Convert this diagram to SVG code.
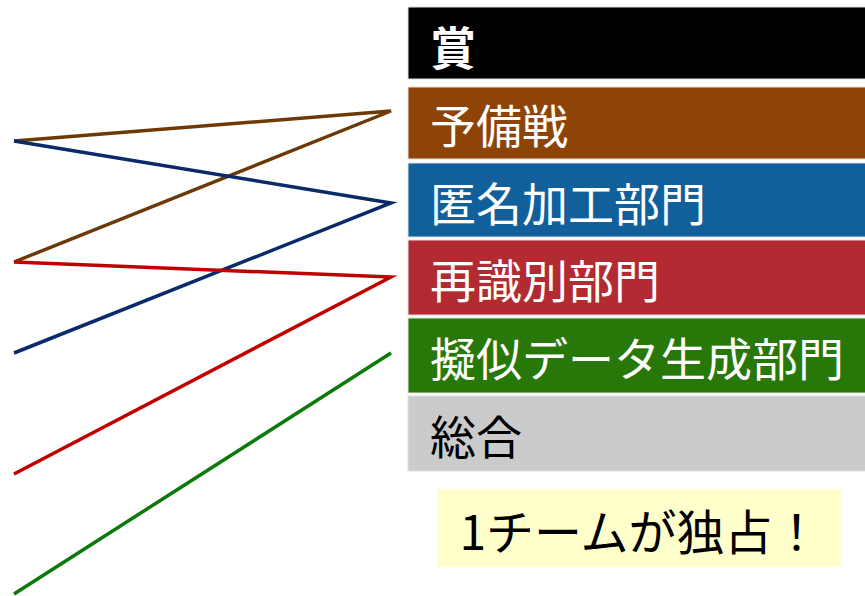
<svg xmlns="http://www.w3.org/2000/svg" width="865" height="596" viewBox="0 0 865 596">
<style>
.box{stroke:#e0e0e0;stroke-width:1}
.lbl{font-family:"Noto Sans CJK JP","Noto Sans",sans-serif;font-size:46px;dominant-baseline:central}
.w{fill:#fff}
.k{fill:#000}
.ln{fill:none;stroke-width:3.5;stroke-linecap:butt;stroke-linejoin:miter}
</style>
<rect width="865" height="596" fill="#fff"/>
<g id="connectors">
<polyline class="ln" stroke="#6b3a06" points="14,262 391,111 14,141"/>
<polyline class="ln" stroke="#0a2a6a" points="14,141 391,203 14,353"/>
<polyline class="ln" stroke="#c00000" points="14,262 391,277 14,474"/>
<line class="ln" stroke="#0a7a0a" x1="391" y1="353" x2="14" y2="594"/>
</g>
<g id="award">
<rect class="box" x="408" y="7" width="458" height="72" fill="#000"/>
<text class="lbl w" x="430" y="45" font-weight="bold">賞</text>
</g>
<g id="preliminary">
<rect class="box" x="408" y="87" width="458" height="72" fill="#8f4407"/>
<text class="lbl w" x="430" y="123">予備戦</text>
</g>
<g id="anonymization">
<rect class="box" x="408" y="163" width="458" height="74" fill="#115f9b"/>
<text class="lbl w" x="430" y="201">匿名加工部門</text>
</g>
<g id="reidentification">
<rect class="box" x="408" y="240" width="458" height="75" fill="#b22a32"/>
<text class="lbl w" x="430" y="278">再識別部門</text>
</g>
<g id="synthetic">
<rect class="box" x="408" y="318" width="458" height="75" fill="#287709"/>
<text class="lbl w" x="430" y="356">擬似データ生成部門</text>
</g>
<g id="overall">
<rect class="box" x="408" y="396" width="458" height="75" fill="#cbcbcb"/>
<text class="lbl k" x="430" y="434">総合</text>
</g>
<g id="note">
<rect x="437" y="489" width="404" height="78" fill="#ffffcc"/>
<text class="lbl k" x="640" y="529" text-anchor="middle" font-size="48px" style="font-size:48px">1チームが独占！</text>
</g>
</svg>
